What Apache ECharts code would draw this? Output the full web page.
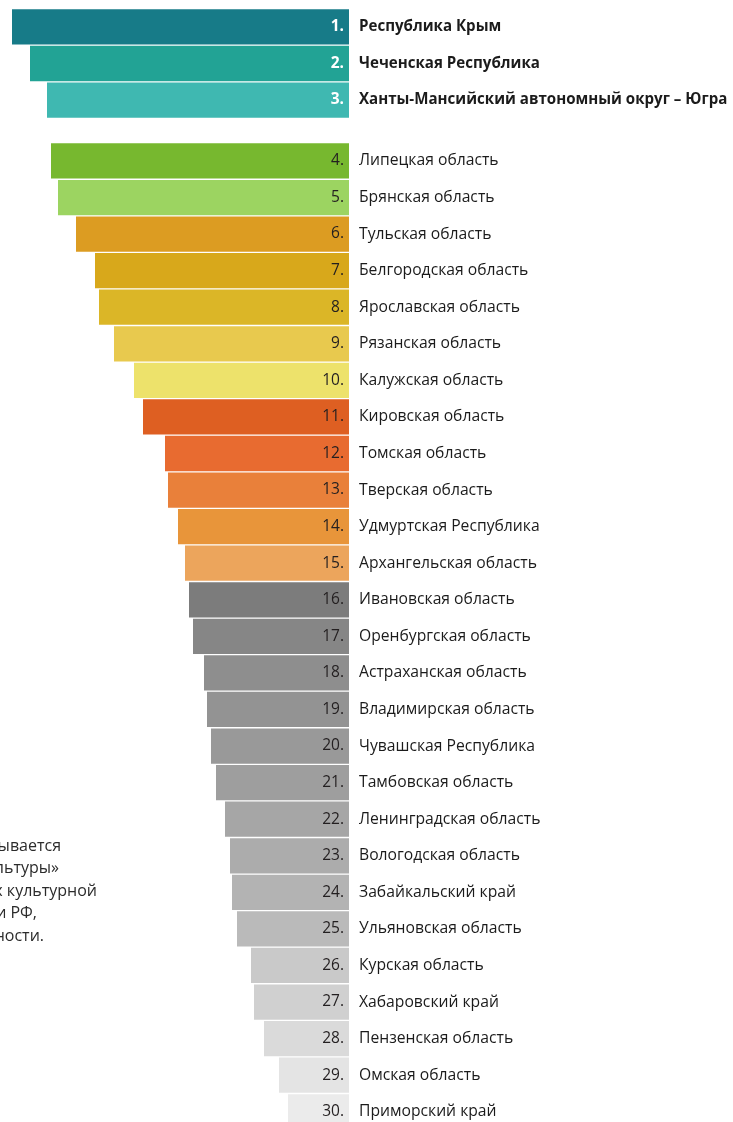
<!DOCTYPE html>
<html>
<head>
<meta charset="utf-8">
<script src="https://cdn.jsdelivr.net/npm/echarts@6/dist/echarts.min.js"></script>
<style>
html,body{margin:0;padding:0;background:#fff;}
#chart{width:733px;height:1122px;}
</style>
</head>
<body>
<div id="chart"></div>
<script>
// ---- data ----
const topNames = ['Республика Крым', 'Чеченская Республика', 'Ханты-Мансийский автономный округ – Югра'];
const topRanks = ['1.', '2.', '3.'];
const topValues = [337, 319, 302];
const topColors = ['#177b88', '#22a395', '#3fb8b1'];

const restNames = [
  'Липецкая область', 'Брянская область', 'Тульская область', 'Белгородская область',
  'Ярославская область', 'Рязанская область', 'Калужская область', 'Кировская область',
  'Томская область', 'Тверская область', 'Удмуртская Республика', 'Архангельская область',
  'Ивановская область', 'Оренбургская область', 'Астраханская область', 'Владимирская область',
  'Чувашская Республика', 'Тамбовская область', 'Ленинградская область', 'Вологодская область',
  'Забайкальский край', 'Ульяновская область', 'Курская область', 'Хабаровский край',
  'Пензенская область', 'Омская область', 'Приморский край'
];
const restRanks = ['4.', '5.', '6.', '7.', '8.', '9.', '10.', '11.', '12.', '13.', '14.', '15.', '16.', '17.',
  '18.', '19.', '20.', '21.', '22.', '23.', '24.', '25.', '26.', '27.', '28.', '29.', '30.'];
const restValues = [298, 291, 273, 254, 250, 235, 215, 206, 184, 181, 171, 164, 160, 156,
  145, 142, 138, 133, 124, 119, 117, 112, 98, 95, 85, 70, 61];
const restColors = ['#77b82f', '#9cd461', '#dc9c22', '#d8a81b', '#dbb627', '#e8c94e', '#ede26b',
  '#de5f22', '#e86b30', '#e9803a', '#e8953a', '#eca55c', '#7c7c7c', '#868686', '#8e8e8e',
  '#939393', '#999999', '#9e9e9e', '#a6a6a6', '#acacac', '#b3b3b3', '#bababa', '#c9c9c9',
  '#d0d0d0', '#dadada', '#e4e4e4', '#ebebeb'];

const noteLines = ['рассчитывается', '«Культуры»', 'объектах культурной', 'и РФ,', 'доступности.'];

// ---- chart ----
const FONT = '"Open Sans", sans-serif';
const chart = echarts.init(document.getElementById('chart'), null, {renderer: 'canvas'});

function nameAxis(gridIndex, data, bold) {
  return {
    type: 'category', gridIndex: gridIndex, data: data, inverse: true, position: 'right',
    axisLine: {show: false, onZero: false}, axisTick: {show: false}, splitLine: {show: false},
    axisLabel: {margin: 10, align: 'left', color: '#1b1b1b', fontFamily: FONT,
      fontSize: bold ? 15.1 : 15.7, fontWeight: bold ? 'bold' : 'normal', interval: 0,
      hideOverlap: false, padding: [2, 0, 0, 0]},
    z: 5
  };
}
function rankAxis(gridIndex, data, white) {
  return {
    type: 'category', gridIndex: gridIndex, data: data, inverse: true, position: 'right',
    axisLine: {show: false, onZero: false}, axisTick: {show: false}, splitLine: {show: false},
    axisLabel: {margin: -5, align: 'right', color: white ? '#ffffff' : '#231f20', fontFamily: FONT,
      fontSize: 15.5, fontWeight: white ? 'bold' : 'normal', interval: 0, hideOverlap: false,
      padding: [2, 0, 0, 0]},
    z: 6
  };
}
function valAxis(gridIndex) {
  return {type: 'value', gridIndex: gridIndex, inverse: true, min: 0, max: 349, show: false};
}

const option = {
  animation: false,
  backgroundColor: '#ffffff',
  grid: [
    {left: 0, right: 384, top: 8.65, height: 109.7, outerBoundsMode: 'none', containLabel: false},
    {left: 0, right: 384, top: 142.65, height: 987.4, outerBoundsMode: 'none', containLabel: false}
  ],
  xAxis: [valAxis(0), valAxis(1)],
  yAxis: [nameAxis(0, topNames, true), rankAxis(0, topRanks, true),
          nameAxis(1, restNames, false), rankAxis(1, restRanks, false)],
  series: [
    {type: 'bar', xAxisIndex: 0, yAxisIndex: 0, barCategoryGap: '3.6%',
     data: topValues.map((v, i) => ({value: v, itemStyle: {color: topColors[i]}}))},
    {type: 'bar', xAxisIndex: 1, yAxisIndex: 2, barCategoryGap: '3.6%',
     data: restValues.map((v, i) => ({value: v, itemStyle: {color: restColors[i]}}))}
  ],
  graphic: noteLines.map((t, i) => ({
    type: 'text', x: [61, 59, 97, 37, 44][i], y: 846 + i * 22.5,
    style: {text: t, fill: '#2b2b2b', font: '16px ' + FONT, textAlign: 'right', textVerticalAlign: 'middle'}
  }))
};
chart.setOption(option);
</script>
</body>
</html>
